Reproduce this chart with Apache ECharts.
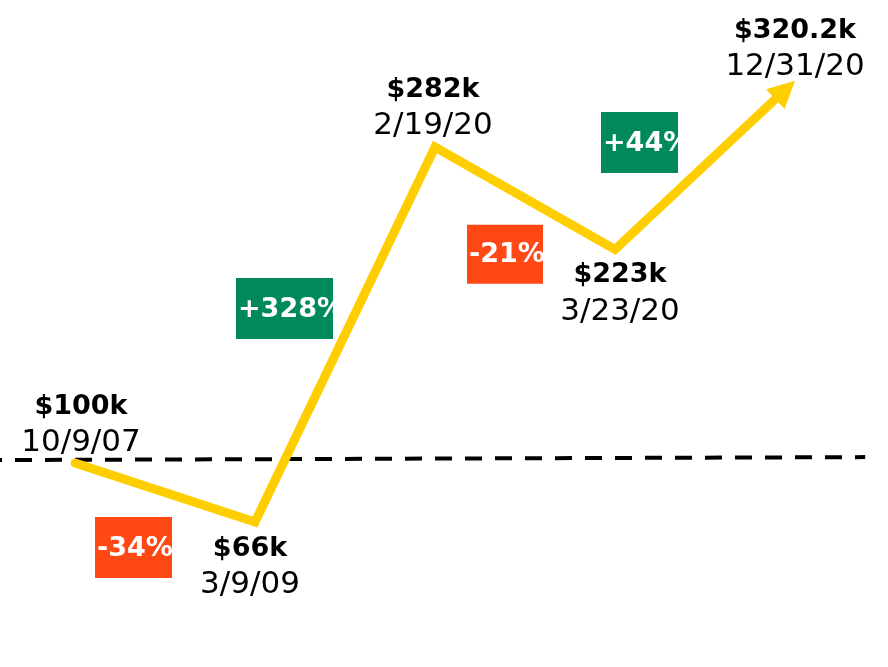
<!DOCTYPE html>
<html><head><meta charset="utf-8">
<script src="https://cdn.jsdelivr.net/npm/echarts@6/dist/echarts.min.js"></script>
<style>html,body{margin:0;padding:0;background:#fff}#c{width:888px;height:667px}</style>
</head><body><div id="c"></div>
<script>
// ---- data ----
const dates = ['10/9/07', '3/9/09', '2/19/20', '3/23/20', '12/31/20'];
const values = [100, 66, 282, 223, 320.2];
const valueLabels = ['$100k', '$66k', '$282k', '$223k', '$320.2k'];
const changes = ['-34%', '+328%', '-21%', '+44%'];
const baselineLevels = [101.7, 103.4];

// ---- style / layout ----
const YELLOW = '#FFCE00', GREEN = '#008A5C', RED = '#FF4814';
const FONT = 'DejaVu Sans';
const X_MIN = -75 / 180, X_MAX = 4 + 93 / 180;
const Y_MIN = -17.5, Y_MAX = 366.7;
const BASELINE_END = 4.39;
// [position, distance, dx]
const labelPlacement = [['top', 2, 6], ['bottom', 9, -5], ['top', 3, -2], ['bottom', 8, 5], ['top', -4, 0]];
const badgeLayout = [
  { w: 77, h: 61, dx: -31.5, dy: 55 },
  { w: 97, h: 61, dx: -60.5, dy: -26 },
  { w: 76, h: 59, dx: -20, dy: 56 },
  { w: 77, h: 61, dx: -65.5, dy: -22.5 }
];

const chart = echarts.init(document.getElementById('c'));

const pointData = values.map((v, i) => ({
  value: [i, v],
  label: {
    position: labelPlacement[i][0],
    distance: labelPlacement[i][1],
    offset: [labelPlacement[i][2], 0],
    formatter: '{v|' + valueLabels[i] + '}\n{d|' + dates[i] + '}'
  }
}));

chart.setOption({
  animation: false,
  backgroundColor: '#fff',
  grid: { left: 0, right: 0, top: 0, bottom: 0 },
  xAxis: { type: 'value', min: X_MIN, max: X_MAX, show: false },
  yAxis: { type: 'value', min: Y_MIN, max: Y_MAX, show: false },
  series: [
    {
      type: 'line',
      silent: true,
      showSymbol: false,
      data: [[X_MIN, baselineLevels[0]], [BASELINE_END, baselineLevels[1]]],
      lineStyle: { color: '#000', width: 4, type: [17, 13], dashOffset: 15, cap: 'butt' },
      z: 1
    },
    {
      type: 'custom',
      silent: true,
      data: values.map((v, i) => [i, v]),
      z: 2,
      renderItem: function (params, api) {
        if (params.dataIndex !== values.length - 1) return null;
        const pts = values.map((v, i) => api.coord([i, v]));
        const tip = pts[pts.length - 1], prev = pts[pts.length - 2];
        const dx = tip[0] - prev[0], dy = tip[1] - prev[1];
        const len = Math.hypot(dx, dy);
        const ux = dx / len, uy = dy / len;
        const L = 27, H = 13.5;
        const base = [tip[0] - ux * L, tip[1] - uy * L];
        const shaftEnd = [tip[0] - ux * (L - 6), tip[1] - uy * (L - 6)];
        const linePts = pts.slice(0, -1).concat([shaftEnd]);
        return {
          type: 'group',
          children: [
            {
              type: 'polyline',
              shape: { points: linePts },
              style: { stroke: YELLOW, lineWidth: 9, fill: null, lineJoin: 'miter', lineCap: 'round' }
            },
            {
              type: 'polygon',
              shape: { points: [tip, [base[0] - uy * H, base[1] + ux * H], [base[0] + uy * H, base[1] - ux * H]] },
              style: { fill: YELLOW }
            }
          ]
        };
      }
    },
    {
      type: 'scatter',
      silent: true,
      symbolSize: 0,
      itemStyle: { opacity: 1 },
      data: pointData,
      z: 3,
      label: {
        show: true,
        align: 'center',
        rich: {
          v: { fontFamily: FONT, fontWeight: 'bold', fontSize: 27, lineHeight: 36, color: '#000', align: 'center' },
          d: { fontFamily: FONT, fontSize: 31, lineHeight: 36, color: '#000', align: 'center' }
        }
      }
    },
    {
      type: 'custom',
      silent: true,
      z: 4,
      data: changes.map((c, i) => [i + 0.5, (values[i] + values[i + 1]) / 2]),
      renderItem: function (params, api) {
        const i = params.dataIndex;
        const b = badgeLayout[i];
        const txt = changes[i];
        const up = txt.charAt(0) === '+';
        const p = api.coord([api.value(0), api.value(1)]);
        const rx = p[0] + b.dx - b.w / 2, ry = p[1] + b.dy - b.h / 2;
        return {
          type: 'group',
          children: [
            { type: 'rect', shape: { x: rx, y: ry, width: b.w, height: b.h }, style: { fill: up ? GREEN : RED } },
            {
              type: 'text', x: rx + 2, y: ry + b.h / 2 + 1,
              style: {
                text: txt, fill: '#fff', font: 'bold 27px "DejaVu Sans"',
                align: 'left', verticalAlign: 'middle', textAlign: 'left', textVerticalAlign: 'middle'
              }
            }
          ]
        };
      }
    }
  ]
});
</script>
</body></html>
